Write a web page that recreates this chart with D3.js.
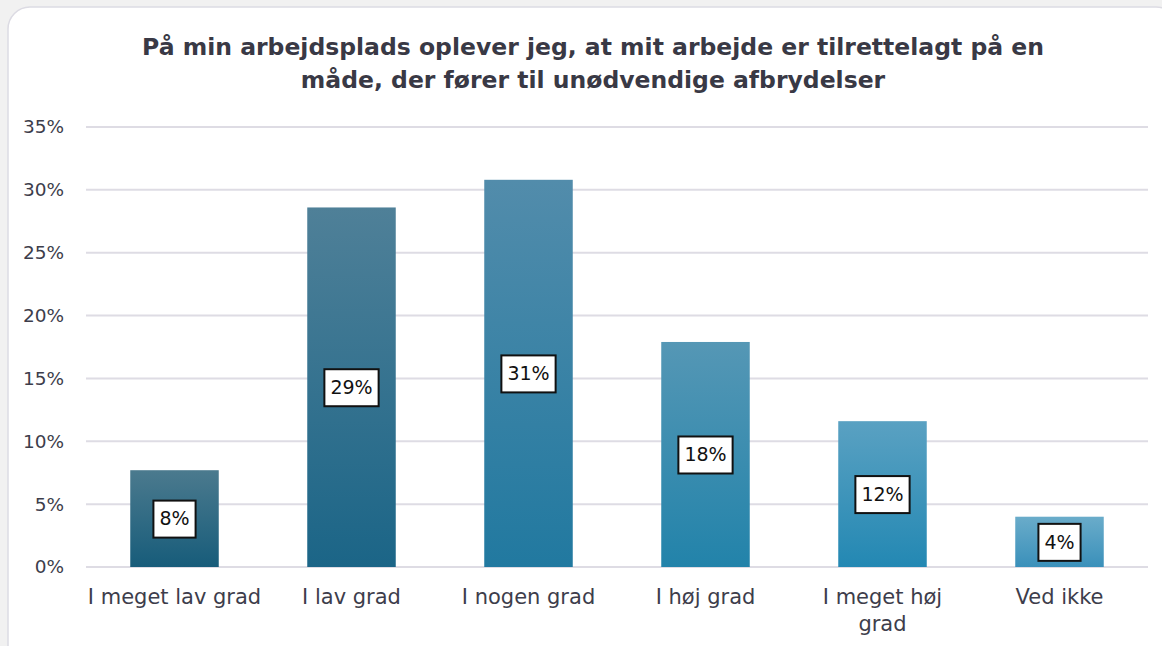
<!DOCTYPE html>
<html>
<head>
<meta charset="utf-8">
<script src="https://cdn.jsdelivr.net/npm/d3@7"></script>
<style>
  body { margin: 0; background: #f1f1f1; }
  svg { display: block; }
  .title { font-family: "DejaVu Sans", sans-serif; font-weight: bold; fill: #393945; }
  .axisText { font-family: "DejaVu Sans", sans-serif; fill: #3d3d4b; }
  .barLabel { font-family: "DejaVu Sans", sans-serif; fill: #111; }
</style>
</head>
<body>
<div id="chart"></div>
<script>
// data
var categories = ["I meget lav grad", "I lav grad", "I nogen grad", "I høj grad", "I meget høj grad", "Ved ikke"];
var values = [7.7, 28.6, 30.8, 17.9, 11.6, 4.0];
var labels = ["8%", "29%", "31%", "18%", "12%", "4%"];
var yTicks = [0, 5, 10, 15, 20, 25, 30, 35];
var topColors = ["#4b7a8e", "#4f8098", "#528cab", "#5597b5", "#5aa1c2", "#6aacca"];
var bottomColors = ["#175c7a", "#1b6587", "#2179a0", "#2283aa", "#2388b3", "#3a90ba"];
var titleLines = ["På min arbejdsplads oplever jeg, at mit arbejde er tilrettelagt på en",
                  "måde, der fører til unødvendige afbrydelser"];

var W = 1162, H = 646;
var margin = {top: 127, right: 14, bottom: 79, left: 86};
var width = W - margin.left - margin.right;
var height = H - margin.top - margin.bottom;

var svg = d3.select("#chart").append("svg")
  .attr("width", W)
  .attr("height", H);

//card background
svg.append("rect")
  .attr("x", 8).attr("y", 7)
  .attr("width", 1170).attr("height", 680)
  .attr("rx", 22)
  .attr("fill", "#fff")
  .attr("stroke", "#dcdbe3")
  .attr("stroke-width", 1.5);

//title
svg.selectAll(".title")
  .data(titleLines)
  .enter().append("text")
  .attr("class", "title")
  .attr("x", 593)
  .attr("y", function(d, i) { return 55 + i * 33; })
  .attr("text-anchor", "middle")
  .style("font-size", "23.5px")
  .text(function(d) { return d; });

var g = svg.append("g")
  .attr("transform", "translate(" + margin.left + "," + margin.top + ")");

var x = d3.scaleBand()
  .domain(categories)
  .range([0, width])
  .paddingInner(0.5)
  .paddingOuter(0.25);

var y = d3.scaleLinear()
  .domain([0, 35])
  .range([height, 0]);

//gridlines
g.selectAll(".grid")
  .data(yTicks)
  .enter().append("line")
  .attr("x1", 0).attr("x2", width)
  .attr("y1", function(d) { return y(d); })
  .attr("y2", function(d) { return y(d); })
  .attr("stroke", "#dedce4")
  .attr("stroke-width", 2);

//y axis labels
g.selectAll(".yLabel")
  .data(yTicks)
  .enter().append("text")
  .attr("class", "axisText")
  .attr("x", -22)
  .attr("y", function(d) { return y(d); })
  .attr("dy", "0.35em")
  .attr("text-anchor", "end")
  .style("font-size", "18.5px")
  .text(function(d) { return d + "%"; });

//gradients
var defs = svg.append("defs");
categories.forEach(function(c, i) {
  var grad = defs.append("linearGradient")
    .attr("id", "grad" + i)
    .attr("x1", "0%").attr("y1", "0%")
    .attr("x2", "0%").attr("y2", "100%");
  grad.append("stop").attr("offset", "0%").attr("stop-color", topColors[i]);
  grad.append("stop").attr("offset", "100%").attr("stop-color", bottomColors[i]);
});

//bars
g.selectAll(".bar")
  .data(values)
  .enter().append("rect")
  .attr("class", "bar")
  .attr("x", function(d, i) { return x(categories[i]); })
  .attr("y", function(d) { return y(d); })
  .attr("width", x.bandwidth())
  .attr("height", function(d) { return height - y(d); })
  .attr("fill", function(d, i) { return "url(#grad" + i + ")"; });

//value labels in boxes
var lab = g.selectAll(".lab")
  .data(values)
  .enter().append("g")
  .attr("transform", function(d, i) {
    return "translate(" + (x(categories[i]) + x.bandwidth() / 2) + "," + ((y(d) + height) / 2) + ")";
  });
lab.append("text")
  .attr("class", "barLabel")
  .attr("text-anchor", "middle")
  .attr("dy", "0.36em")
  .style("font-size", "19px")
  .text(function(d, i) { return labels[i]; });
lab.each(function() {
  var t = d3.select(this).select("text").node().getBBox();
  d3.select(this).insert("rect", "text")
    .attr("x", t.x - 6)
    .attr("y", -18)
    .attr("width", t.width + 12)
    .attr("height", 37)
    .attr("fill", "#fff")
    .attr("stroke", "#111")
    .attr("stroke-width", 2);
});

//x labels, wrapped
var xl = g.selectAll(".xLabel")
  .data(categories)
  .enter().append("text")
  .attr("class", "axisText")
  .attr("x", function(d) { return x(d) + x.bandwidth() / 2; })
  .attr("y", height + 37)
  .attr("text-anchor", "middle")
  .style("font-size", "21px");
xl.each(function(d) {
  var t = d3.select(this);
  var lines = d === "I meget høj grad" ? ["I meget høj", "grad"] : [d];
  lines.forEach(function(l, i) {
    t.append("tspan")
      .attr("x", t.attr("x"))
      .attr("dy", i === 0 ? 0 : 27)
      .text(l);
  });
});
</script>
</body>
</html>
